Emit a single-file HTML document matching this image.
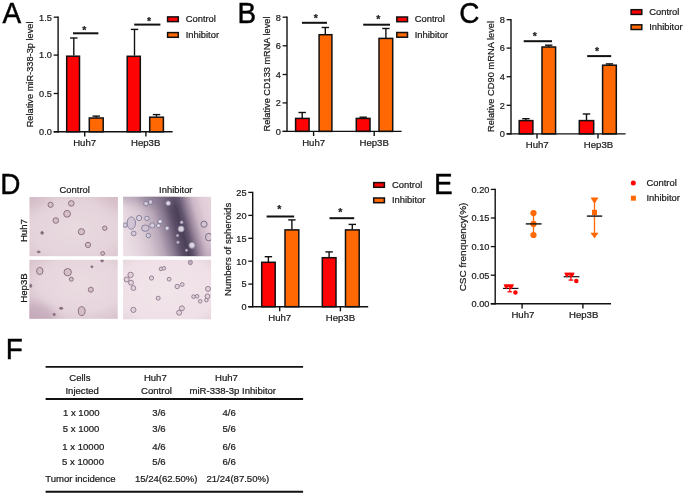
<!DOCTYPE html>
<html lang="en"><head><meta charset="utf-8"><title>Figure</title>
<style>
html,body{margin:0;padding:0;background:#fff;}
svg{display:block;font-family:"Liberation Sans", Arial, sans-serif;filter:blur(0.45px);}
</style></head><body>
<svg width="685" height="495" viewBox="0 0 685 495">
<rect width="685" height="495" fill="#fff"/>
<text transform="translate(2.4 22.7) scale(0.92 1)" font-size="30.4" fill="#000" stroke="#000" stroke-width="0.45">A</text>
<text transform="translate(237.6 22.5) scale(0.92 1)" font-size="30.4" fill="#000" stroke="#000" stroke-width="0.45">B</text>
<text transform="translate(459.3 22.9) scale(0.92 1)" font-size="30.4" fill="#000" stroke="#000" stroke-width="0.45">C</text>
<text transform="translate(0.3 194.0) scale(0.92 1)" font-size="30.4" fill="#000" stroke="#000" stroke-width="0.45">D</text>
<text transform="translate(434.0 194.2) scale(0.92 1)" font-size="30.4" fill="#000" stroke="#000" stroke-width="0.45">E</text>
<text transform="translate(5.7 358.6) scale(0.92 1)" font-size="30.4" fill="#000" stroke="#000" stroke-width="0.45">F</text>
<line x1="73.8" y1="38.0" x2="73.8" y2="55.6" stroke="#111" stroke-width="1.4"/>
<line x1="70.1" y1="38.0" x2="77.5" y2="38.0" stroke="#111" stroke-width="1.4"/>
<line x1="96.2" y1="116.1" x2="96.2" y2="117.7" stroke="#111" stroke-width="1.4"/>
<line x1="92.5" y1="116.1" x2="99.9" y2="116.1" stroke="#111" stroke-width="1.4"/>
<line x1="134.5" y1="29.4" x2="134.5" y2="55.6" stroke="#111" stroke-width="1.4"/>
<line x1="130.8" y1="29.4" x2="138.2" y2="29.4" stroke="#111" stroke-width="1.4"/>
<line x1="156.5" y1="114.6" x2="156.5" y2="116.7" stroke="#111" stroke-width="1.4"/>
<line x1="152.8" y1="114.6" x2="160.2" y2="114.6" stroke="#111" stroke-width="1.4"/>
<rect x="66.7" y="56.2" width="12.8" height="75.6" fill="#fd0303" stroke="#111" stroke-width="1.5"/>
<rect x="89.3" y="118.0" width="13.9" height="13.8" fill="#ff6803" stroke="#111" stroke-width="1.5"/>
<rect x="127.2" y="56.3" width="13.1" height="75.5" fill="#fd0303" stroke="#111" stroke-width="1.5"/>
<rect x="149.7" y="117.2" width="13.7" height="14.6" fill="#ff6803" stroke="#111" stroke-width="1.5"/>
<line x1="58.1" y1="16.6" x2="58.1" y2="132.4" stroke="#111" stroke-width="1.4"/>
<line x1="53.7" y1="131.8" x2="172.6" y2="131.8" stroke="#111" stroke-width="1.4"/>
<line x1="53.7" y1="17.2" x2="58.1" y2="17.2" stroke="#111" stroke-width="1.3"/>
<text x="51.9" y="20.5" font-size="9.2" text-anchor="end" fill="#1a1a1a" stroke="#1a1a1a" stroke-width="0.22">1.5</text>
<line x1="53.7" y1="55.1" x2="58.1" y2="55.1" stroke="#111" stroke-width="1.3"/>
<text x="51.9" y="58.4" font-size="9.2" text-anchor="end" fill="#1a1a1a" stroke="#1a1a1a" stroke-width="0.22">1.0</text>
<line x1="53.7" y1="93.5" x2="58.1" y2="93.5" stroke="#111" stroke-width="1.3"/>
<text x="51.9" y="96.8" font-size="9.2" text-anchor="end" fill="#1a1a1a" stroke="#1a1a1a" stroke-width="0.22">0.5</text>
<line x1="53.7" y1="131.8" x2="58.1" y2="131.8" stroke="#111" stroke-width="1.3"/>
<text x="51.9" y="135.1" font-size="9.2" text-anchor="end" fill="#1a1a1a" stroke="#1a1a1a" stroke-width="0.22">0.0</text>
<line x1="84.7" y1="131.8" x2="84.7" y2="136.4" stroke="#111" stroke-width="1.4"/>
<line x1="145.9" y1="131.8" x2="145.9" y2="136.4" stroke="#111" stroke-width="1.4"/>
<text x="84.6" y="146.2" font-size="9.6" text-anchor="middle" fill="#1a1a1a" stroke="#1a1a1a" stroke-width="0.22">Huh7</text>
<text x="145.7" y="146.2" font-size="9.6" text-anchor="middle" fill="#1a1a1a" stroke="#1a1a1a" stroke-width="0.22">Hep3B</text>
<line x1="73.0" y1="33.3" x2="98.4" y2="33.3" stroke="#111" stroke-width="2.0"/>
<text x="84.3" y="33.5" font-size="10.5" text-anchor="middle" fill="#1a1a1a" stroke="#1a1a1a" stroke-width="0.22" font-weight="bold">*</text>
<line x1="134.2" y1="24.6" x2="160.4" y2="24.6" stroke="#111" stroke-width="2.0"/>
<text x="149.1" y="24.6" font-size="10.5" text-anchor="middle" fill="#1a1a1a" stroke="#1a1a1a" stroke-width="0.22" font-weight="bold">*</text>
<rect x="167.6" y="16.9" width="10.7" height="4.7" fill="#fd0303" stroke="#111" stroke-width="1.5"/>
<text x="185.7" y="22.3" font-size="9.4" text-anchor="start" fill="#1a1a1a" stroke="#1a1a1a" stroke-width="0.22">Control</text>
<rect x="167.6" y="32.6" width="10.7" height="4.7" fill="#ff6803" stroke="#111" stroke-width="1.5"/>
<text x="185.7" y="38.1" font-size="9.4" text-anchor="start" fill="#1a1a1a" stroke="#1a1a1a" stroke-width="0.22">Inhibitor</text>
<text x="32.6" y="74.4" font-size="9.25" text-anchor="middle" fill="#1a1a1a" stroke="#1a1a1a" stroke-width="0.22" transform="rotate(-90 32.6 74.4)">Relative miR-338-3p level</text>
<line x1="302.2" y1="112.5" x2="302.2" y2="118.4" stroke="#111" stroke-width="1.4"/>
<line x1="298.5" y1="112.5" x2="305.9" y2="112.5" stroke="#111" stroke-width="1.4"/>
<line x1="325.3" y1="27.5" x2="325.3" y2="34.3" stroke="#111" stroke-width="1.4"/>
<line x1="321.6" y1="27.5" x2="329.0" y2="27.5" stroke="#111" stroke-width="1.4"/>
<line x1="363.2" y1="117.2" x2="363.2" y2="118.4" stroke="#111" stroke-width="1.4"/>
<line x1="359.5" y1="117.2" x2="366.9" y2="117.2" stroke="#111" stroke-width="1.4"/>
<line x1="385.9" y1="28.5" x2="385.9" y2="38.4" stroke="#111" stroke-width="1.4"/>
<line x1="382.2" y1="28.5" x2="389.6" y2="28.5" stroke="#111" stroke-width="1.4"/>
<rect x="295.6" y="118.4" width="13.5" height="13.0" fill="#fd0303" stroke="#111" stroke-width="1.5"/>
<rect x="319.1" y="34.7" width="12.8" height="96.7" fill="#ff6803" stroke="#111" stroke-width="1.5"/>
<rect x="356.3" y="118.4" width="13.7" height="13.0" fill="#fd0303" stroke="#111" stroke-width="1.5"/>
<rect x="379.0" y="38.4" width="13.7" height="93.0" fill="#ff6803" stroke="#111" stroke-width="1.5"/>
<line x1="287.0" y1="16.6" x2="287.0" y2="132.0" stroke="#111" stroke-width="1.4"/>
<line x1="282.6" y1="131.4" x2="401.6" y2="131.4" stroke="#111" stroke-width="1.4"/>
<line x1="282.6" y1="17.2" x2="287.0" y2="17.2" stroke="#111" stroke-width="1.3"/>
<text x="280.8" y="20.5" font-size="9.2" text-anchor="end" fill="#1a1a1a" stroke="#1a1a1a" stroke-width="0.22">8</text>
<line x1="282.6" y1="45.8" x2="287.0" y2="45.8" stroke="#111" stroke-width="1.3"/>
<text x="280.8" y="49.1" font-size="9.2" text-anchor="end" fill="#1a1a1a" stroke="#1a1a1a" stroke-width="0.22">6</text>
<line x1="282.6" y1="74.5" x2="287.0" y2="74.5" stroke="#111" stroke-width="1.3"/>
<text x="280.8" y="77.8" font-size="9.2" text-anchor="end" fill="#1a1a1a" stroke="#1a1a1a" stroke-width="0.22">4</text>
<line x1="282.6" y1="102.9" x2="287.0" y2="102.9" stroke="#111" stroke-width="1.3"/>
<text x="280.8" y="106.2" font-size="9.2" text-anchor="end" fill="#1a1a1a" stroke="#1a1a1a" stroke-width="0.22">2</text>
<line x1="282.6" y1="131.4" x2="287.0" y2="131.4" stroke="#111" stroke-width="1.3"/>
<text x="280.8" y="134.7" font-size="9.2" text-anchor="end" fill="#1a1a1a" stroke="#1a1a1a" stroke-width="0.22">0</text>
<line x1="313.6" y1="131.4" x2="313.6" y2="136.0" stroke="#111" stroke-width="1.4"/>
<line x1="374.2" y1="131.4" x2="374.2" y2="136.0" stroke="#111" stroke-width="1.4"/>
<text x="313.6" y="145.8" font-size="9.6" text-anchor="middle" fill="#1a1a1a" stroke="#1a1a1a" stroke-width="0.22">Huh7</text>
<text x="374.2" y="145.8" font-size="9.6" text-anchor="middle" fill="#1a1a1a" stroke="#1a1a1a" stroke-width="0.22">Hep3B</text>
<line x1="302.0" y1="22.8" x2="327.0" y2="22.8" stroke="#111" stroke-width="2.0"/>
<text x="315.8" y="21.8" font-size="10.5" text-anchor="middle" fill="#1a1a1a" stroke="#1a1a1a" stroke-width="0.22" font-weight="bold">*</text>
<line x1="363.2" y1="24.7" x2="390.0" y2="24.7" stroke="#111" stroke-width="2.0"/>
<text x="378.3" y="22.5" font-size="10.5" text-anchor="middle" fill="#1a1a1a" stroke="#1a1a1a" stroke-width="0.22" font-weight="bold">*</text>
<rect x="396.8" y="17.0" width="10.7" height="4.7" fill="#fd0303" stroke="#111" stroke-width="1.5"/>
<text x="414.7" y="22.4" font-size="9.4" text-anchor="start" fill="#1a1a1a" stroke="#1a1a1a" stroke-width="0.22">Control</text>
<rect x="396.8" y="32.5" width="10.7" height="4.7" fill="#ff6803" stroke="#111" stroke-width="1.5"/>
<text x="414.7" y="38.0" font-size="9.4" text-anchor="start" fill="#1a1a1a" stroke="#1a1a1a" stroke-width="0.22">Inhibitor</text>
<text x="270.0" y="74.0" font-size="9.2" text-anchor="middle" fill="#1a1a1a" stroke="#1a1a1a" stroke-width="0.22" transform="rotate(-90 270.0 74.0)">Relative CD133 mRNA level</text>
<line x1="525.9" y1="118.7" x2="525.9" y2="120.1" stroke="#111" stroke-width="1.4"/>
<line x1="522.2" y1="118.7" x2="529.6" y2="118.7" stroke="#111" stroke-width="1.4"/>
<line x1="548.7" y1="45.2" x2="548.7" y2="47.0" stroke="#111" stroke-width="1.4"/>
<line x1="545.0" y1="45.2" x2="552.4" y2="45.2" stroke="#111" stroke-width="1.4"/>
<line x1="586.5" y1="114.0" x2="586.5" y2="120.1" stroke="#111" stroke-width="1.4"/>
<line x1="582.8" y1="114.0" x2="590.2" y2="114.0" stroke="#111" stroke-width="1.4"/>
<line x1="609.5" y1="63.9" x2="609.5" y2="65.2" stroke="#111" stroke-width="1.4"/>
<line x1="605.8" y1="63.9" x2="613.2" y2="63.9" stroke="#111" stroke-width="1.4"/>
<rect x="519.2" y="120.6" width="13.7" height="13.3" fill="#fd0303" stroke="#111" stroke-width="1.5"/>
<rect x="542.0" y="47.0" width="13.6" height="86.9" fill="#ff6803" stroke="#111" stroke-width="1.5"/>
<rect x="579.3" y="120.6" width="14.4" height="13.3" fill="#fd0303" stroke="#111" stroke-width="1.5"/>
<rect x="602.6" y="65.2" width="13.7" height="68.7" fill="#ff6803" stroke="#111" stroke-width="1.5"/>
<line x1="511.0" y1="19.1" x2="511.0" y2="134.5" stroke="#111" stroke-width="1.4"/>
<line x1="506.6" y1="133.9" x2="625.6" y2="133.9" stroke="#111" stroke-width="1.4"/>
<line x1="506.6" y1="19.7" x2="511.0" y2="19.7" stroke="#111" stroke-width="1.3"/>
<text x="504.8" y="23.0" font-size="9.2" text-anchor="end" fill="#1a1a1a" stroke="#1a1a1a" stroke-width="0.22">8</text>
<line x1="506.6" y1="48.1" x2="511.0" y2="48.1" stroke="#111" stroke-width="1.3"/>
<text x="504.8" y="51.4" font-size="9.2" text-anchor="end" fill="#1a1a1a" stroke="#1a1a1a" stroke-width="0.22">6</text>
<line x1="506.6" y1="76.7" x2="511.0" y2="76.7" stroke="#111" stroke-width="1.3"/>
<text x="504.8" y="80.0" font-size="9.2" text-anchor="end" fill="#1a1a1a" stroke="#1a1a1a" stroke-width="0.22">4</text>
<line x1="506.6" y1="105.3" x2="511.0" y2="105.3" stroke="#111" stroke-width="1.3"/>
<text x="504.8" y="108.6" font-size="9.2" text-anchor="end" fill="#1a1a1a" stroke="#1a1a1a" stroke-width="0.22">2</text>
<line x1="506.6" y1="133.9" x2="511.0" y2="133.9" stroke="#111" stroke-width="1.3"/>
<text x="504.8" y="137.2" font-size="9.2" text-anchor="end" fill="#1a1a1a" stroke="#1a1a1a" stroke-width="0.22">0</text>
<line x1="537.0" y1="133.9" x2="537.0" y2="138.5" stroke="#111" stroke-width="1.4"/>
<line x1="598.0" y1="133.9" x2="598.0" y2="138.5" stroke="#111" stroke-width="1.4"/>
<text x="537.2" y="148.2" font-size="9.6" text-anchor="middle" fill="#1a1a1a" stroke="#1a1a1a" stroke-width="0.22">Huh7</text>
<text x="598.5" y="148.2" font-size="9.6" text-anchor="middle" fill="#1a1a1a" stroke="#1a1a1a" stroke-width="0.22">Hep3B</text>
<line x1="523.7" y1="41.2" x2="552.0" y2="41.2" stroke="#111" stroke-width="2.0"/>
<text x="534.8" y="40.0" font-size="10.5" text-anchor="middle" fill="#1a1a1a" stroke="#1a1a1a" stroke-width="0.22" font-weight="bold">*</text>
<line x1="587.2" y1="56.1" x2="611.2" y2="56.1" stroke="#111" stroke-width="2.0"/>
<text x="597.1" y="54.9" font-size="10.5" text-anchor="middle" fill="#1a1a1a" stroke="#1a1a1a" stroke-width="0.22" font-weight="bold">*</text>
<rect x="631.1" y="9.7" width="10.7" height="4.7" fill="#fd0303" stroke="#111" stroke-width="1.5"/>
<text x="649.2" y="15.1" font-size="9.4" text-anchor="start" fill="#1a1a1a" stroke="#1a1a1a" stroke-width="0.22">Control</text>
<rect x="631.1" y="24.8" width="10.7" height="4.7" fill="#ff6803" stroke="#111" stroke-width="1.5"/>
<text x="649.2" y="30.2" font-size="9.4" text-anchor="start" fill="#1a1a1a" stroke="#1a1a1a" stroke-width="0.22">Inhibitor</text>
<text x="493.8" y="76.5" font-size="9.3" text-anchor="middle" fill="#1a1a1a" stroke="#1a1a1a" stroke-width="0.22" transform="rotate(-90 493.8 76.5)">Relative CD90 mRNA level</text>
<line x1="268.4" y1="256.7" x2="268.4" y2="262.2" stroke="#111" stroke-width="1.4"/>
<line x1="264.7" y1="256.7" x2="272.1" y2="256.7" stroke="#111" stroke-width="1.4"/>
<line x1="291.9" y1="219.9" x2="291.9" y2="229.5" stroke="#111" stroke-width="1.4"/>
<line x1="288.2" y1="219.9" x2="295.6" y2="219.9" stroke="#111" stroke-width="1.4"/>
<line x1="329.1" y1="251.9" x2="329.1" y2="257.7" stroke="#111" stroke-width="1.4"/>
<line x1="325.4" y1="251.9" x2="332.8" y2="251.9" stroke="#111" stroke-width="1.4"/>
<line x1="352.3" y1="224.4" x2="352.3" y2="229.5" stroke="#111" stroke-width="1.4"/>
<line x1="348.6" y1="224.4" x2="356.0" y2="224.4" stroke="#111" stroke-width="1.4"/>
<rect x="261.7" y="262.3" width="13.5" height="44.4" fill="#fd0303" stroke="#111" stroke-width="1.5"/>
<rect x="285.0" y="229.9" width="13.8" height="76.8" fill="#ff6803" stroke="#111" stroke-width="1.5"/>
<rect x="322.3" y="257.7" width="13.7" height="49.0" fill="#fd0303" stroke="#111" stroke-width="1.5"/>
<rect x="345.5" y="229.9" width="13.7" height="76.8" fill="#ff6803" stroke="#111" stroke-width="1.5"/>
<line x1="252.7" y1="191.8" x2="252.7" y2="307.3" stroke="#111" stroke-width="1.4"/>
<line x1="248.3" y1="306.7" x2="368.2" y2="306.7" stroke="#111" stroke-width="1.4"/>
<line x1="248.3" y1="192.4" x2="252.7" y2="192.4" stroke="#111" stroke-width="1.3"/>
<text x="246.5" y="195.7" font-size="9.2" text-anchor="end" fill="#1a1a1a" stroke="#1a1a1a" stroke-width="0.22">25</text>
<line x1="248.3" y1="215.4" x2="252.7" y2="215.4" stroke="#111" stroke-width="1.3"/>
<text x="246.5" y="218.7" font-size="9.2" text-anchor="end" fill="#1a1a1a" stroke="#1a1a1a" stroke-width="0.22">20</text>
<line x1="248.3" y1="238.3" x2="252.7" y2="238.3" stroke="#111" stroke-width="1.3"/>
<text x="246.5" y="241.6" font-size="9.2" text-anchor="end" fill="#1a1a1a" stroke="#1a1a1a" stroke-width="0.22">15</text>
<line x1="248.3" y1="261.2" x2="252.7" y2="261.2" stroke="#111" stroke-width="1.3"/>
<text x="246.5" y="264.5" font-size="9.2" text-anchor="end" fill="#1a1a1a" stroke="#1a1a1a" stroke-width="0.22">10</text>
<line x1="248.3" y1="284.1" x2="252.7" y2="284.1" stroke="#111" stroke-width="1.3"/>
<text x="246.5" y="287.4" font-size="9.2" text-anchor="end" fill="#1a1a1a" stroke="#1a1a1a" stroke-width="0.22">5</text>
<line x1="248.3" y1="306.7" x2="252.7" y2="306.7" stroke="#111" stroke-width="1.3"/>
<text x="246.5" y="310.0" font-size="9.2" text-anchor="end" fill="#1a1a1a" stroke="#1a1a1a" stroke-width="0.22">0</text>
<line x1="279.7" y1="306.7" x2="279.7" y2="311.3" stroke="#111" stroke-width="1.4"/>
<line x1="340.4" y1="306.7" x2="340.4" y2="311.3" stroke="#111" stroke-width="1.4"/>
<text x="279.7" y="321.3" font-size="9.6" text-anchor="middle" fill="#1a1a1a" stroke="#1a1a1a" stroke-width="0.22">Huh7</text>
<text x="340.4" y="321.3" font-size="9.6" text-anchor="middle" fill="#1a1a1a" stroke="#1a1a1a" stroke-width="0.22">Hep3B</text>
<line x1="266.6" y1="216.5" x2="294.1" y2="216.5" stroke="#111" stroke-width="2.0"/>
<text x="279.3" y="212.9" font-size="10.5" text-anchor="middle" fill="#1a1a1a" stroke="#1a1a1a" stroke-width="0.22" font-weight="bold">*</text>
<line x1="329.5" y1="218.2" x2="354.2" y2="218.2" stroke="#111" stroke-width="2.0"/>
<text x="340.4" y="216.0" font-size="10.5" text-anchor="middle" fill="#1a1a1a" stroke="#1a1a1a" stroke-width="0.22" font-weight="bold">*</text>
<rect x="373.7" y="182.6" width="10.7" height="4.7" fill="#fd0303" stroke="#111" stroke-width="1.5"/>
<text x="392.0" y="188.0" font-size="9.4" text-anchor="start" fill="#1a1a1a" stroke="#1a1a1a" stroke-width="0.22">Control</text>
<rect x="373.7" y="198.0" width="10.7" height="4.7" fill="#ff6803" stroke="#111" stroke-width="1.5"/>
<text x="392.0" y="203.4" font-size="9.4" text-anchor="start" fill="#1a1a1a" stroke="#1a1a1a" stroke-width="0.22">Inhibitor</text>
<text x="231.0" y="249.4" font-size="9.52" text-anchor="middle" fill="#1a1a1a" stroke="#1a1a1a" stroke-width="0.22" transform="rotate(-90 231.0 249.4)">Numbers of spheroids</text>
<text x="74.7" y="193.1" font-size="9.4" text-anchor="middle" fill="#1a1a1a" stroke="#1a1a1a" stroke-width="0.22">Control</text>
<text x="175.8" y="193.1" font-size="9.4" text-anchor="middle" fill="#1a1a1a" stroke="#1a1a1a" stroke-width="0.22">Inhibitor</text>
<text x="27.3" y="230.6" font-size="9.6" text-anchor="middle" fill="#1a1a1a" stroke="#1a1a1a" stroke-width="0.22" transform="rotate(-90 27.3 230.6)">Huh7</text>
<text x="27.3" y="288.0" font-size="9.6" text-anchor="middle" fill="#1a1a1a" stroke="#1a1a1a" stroke-width="0.22" transform="rotate(-90 27.3 288.0)">Hep3B</text>
<defs>
<filter id="b1" x="-20%" y="-20%" width="140%" height="140%"><feGaussianBlur stdDeviation="0.55"/></filter>
<filter id="b3" x="-50%" y="-50%" width="200%" height="200%"><feGaussianBlur stdDeviation="5"/></filter>
<radialGradient id="g1" cx="0.5" cy="0.55" r="0.8"><stop offset="0" stop-color="#e9dae0"/><stop offset="0.6" stop-color="#e4d3da"/><stop offset="1" stop-color="#d7bfc9"/></radialGradient>
<radialGradient id="g3" cx="0.58" cy="0.42" r="0.85"><stop offset="0" stop-color="#ebdce2"/><stop offset="0.55" stop-color="#e6d5dc"/><stop offset="1" stop-color="#d0b7c3"/></radialGradient>
<radialGradient id="g4" cx="0.5" cy="0.5" r="0.8"><stop offset="0" stop-color="#f2e5ea"/><stop offset="0.7" stop-color="#eee0e6"/><stop offset="1" stop-color="#e2ced8"/></radialGradient>
<linearGradient id="g2" gradientUnits="userSpaceOnUse" x1="119.1" y1="242.6" x2="215.4" y2="215.8">
<stop offset="0" stop-color="#eee2e8"/>
<stop offset="0.15" stop-color="#e6d7df"/>
<stop offset="0.28" stop-color="#d6c6d1"/>
<stop offset="0.40" stop-color="#b9a8b9"/>
<stop offset="0.50" stop-color="#8b7b92"/>
<stop offset="0.58" stop-color="#5b4e66"/>
<stop offset="0.64" stop-color="#4b3f58"/>
<stop offset="0.69" stop-color="#63556e"/>
<stop offset="0.75" stop-color="#9a879d"/>
<stop offset="0.82" stop-color="#cbb7c6"/>
<stop offset="0.90" stop-color="#e0ccd7"/>
<stop offset="1" stop-color="#e6d4dc"/>
</linearGradient>
<clipPath id="c1"><rect x="29.5" y="197.0" width="88.4" height="59.2"/></clipPath>
<clipPath id="c2"><rect x="123.1" y="196.8" width="88.0" height="59.4"/></clipPath>
<clipPath id="c3"><rect x="29.4" y="259.8" width="88.3" height="59.0"/></clipPath>
<clipPath id="c4"><rect x="123.1" y="259.8" width="88.0" height="59.5"/></clipPath>
</defs>
<rect x="29.5" y="197.0" width="88.4" height="59.2" fill="url(#g1)"/>
<rect x="123.1" y="196.8" width="88.0" height="59.4" fill="url(#g2)"/>
<rect x="29.4" y="259.8" width="88.3" height="59.0" fill="url(#g3)"/>
<rect x="123.1" y="259.8" width="88.0" height="59.5" fill="url(#g4)"/>
<g clip-path="url(#c2)"><ellipse cx="138" cy="195" rx="30" ry="8" fill="#9d8ea3" opacity="0.55" filter="url(#b3)"/><ellipse cx="160" cy="197" rx="20" ry="9" fill="#7d6d86" opacity="0.5" filter="url(#b3)"/><ellipse cx="211" cy="258" rx="12" ry="10" fill="#b9a3b6" opacity="0.45" filter="url(#b3)"/></g>
<g clip-path="url(#c3)"><ellipse cx="30" cy="318" rx="26" ry="16" fill="#b99cb0" opacity="0.55" filter="url(#b3)"/></g>
<g clip-path="url(#c1)"><ellipse cx="30" cy="198" rx="16" ry="10" fill="#c9adbc" opacity="0.35" filter="url(#b3)"/><ellipse cx="118" cy="198" rx="16" ry="12" fill="#cdb2c0" opacity="0.35" filter="url(#b3)"/></g>
<g clip-path="url(#c1)" filter="url(#b1)" opacity="0.9">
<ellipse cx="50.6" cy="204.8" rx="2.6" ry="2.6" fill="#d3bcc6" stroke="#806676" stroke-width="1.0"/>
<ellipse cx="71.3" cy="203.4" rx="2.8" ry="2.8" fill="#d3bcc6" stroke="#806676" stroke-width="1.0"/>
<ellipse cx="67.1" cy="213.8" rx="3.4" ry="3.4" fill="#d3bcc6" stroke="#806676" stroke-width="1.0"/>
<ellipse cx="55.8" cy="220.5" rx="2.8" ry="2.8" fill="#d3bcc6" stroke="#806676" stroke-width="1.0"/>
<ellipse cx="42.1" cy="232.9" rx="1.3" ry="1.3" fill="#7a5f74" stroke="#806676" stroke-width="1.0"/>
<ellipse cx="81.4" cy="231.7" rx="3.1" ry="3.1" fill="#d3bcc6" stroke="#806676" stroke-width="1.0"/>
<ellipse cx="104.8" cy="228.2" rx="2.2" ry="2.2" fill="#d3bcc6" stroke="#806676" stroke-width="1.0"/>
<ellipse cx="88.0" cy="244.9" rx="2.6" ry="2.6" fill="#d3bcc6" stroke="#806676" stroke-width="1.0"/>
<ellipse cx="102.7" cy="253.4" rx="1.9" ry="1.9" fill="#d3bcc6" stroke="#806676" stroke-width="1.0"/>
<ellipse cx="38.7" cy="251.9" rx="1.6" ry="0.8" fill="#7a5f74" stroke="#806676" stroke-width="1.0"/>
</g>
<g clip-path="url(#c2)" filter="url(#b1)" opacity="0.9">
<ellipse cx="131.3" cy="223.1" rx="4.2" ry="6.2" fill="#cfc3d3" stroke="#807b98" stroke-width="1.0"/>
<ellipse cx="125.1" cy="225.1" rx="2.2" ry="2.2" fill="#d4c9d8" stroke="#807b98" stroke-width="1.0"/>
<ellipse cx="133.7" cy="233.5" rx="2.4" ry="2.4" fill="#d4c9d8" stroke="#807b98" stroke-width="1.0"/>
<ellipse cx="139.1" cy="218.0" rx="2.6" ry="2.6" fill="#ddd3e0" stroke="#807b98" stroke-width="1.0"/>
<ellipse cx="146.9" cy="218.4" rx="2.2" ry="2.2" fill="#ddd3e0" stroke="#807b98" stroke-width="1.0"/>
<ellipse cx="145.3" cy="228.2" rx="3.8" ry="3.2" fill="#cfc3d3" stroke="#807b98" stroke-width="1.0"/>
<ellipse cx="152.3" cy="225.4" rx="2.6" ry="2.6" fill="#d8cedb" stroke="#807b98" stroke-width="1.0"/>
<ellipse cx="148.4" cy="235.5" rx="2.2" ry="2.2" fill="#d8cedb" stroke="#807b98" stroke-width="1.0"/>
<ellipse cx="160.1" cy="221.5" rx="2.2" ry="2.2" fill="#e9e4ee" stroke="#807b98" stroke-width="1.0"/>
<ellipse cx="158.5" cy="225.7" rx="2.0" ry="2.0" fill="#e9e4ee" stroke="#807b98" stroke-width="1.0"/>
<ellipse cx="167.1" cy="228.2" rx="2.0" ry="2.0" fill="#e9e4ee" stroke="#8a84a0" stroke-width="1.0"/>
<ellipse cx="146.0" cy="203.6" rx="2.3" ry="2.3" fill="#d8cfdd" stroke="#807b98" stroke-width="1.0"/>
<ellipse cx="150.6" cy="202.0" rx="2.3" ry="2.3" fill="#d8cfdd" stroke="#807b98" stroke-width="1.0"/>
<ellipse cx="168.2" cy="203.2" rx="2.3" ry="2.3" fill="#e9e4ee" stroke="#9c95b0" stroke-width="1.0"/>
<ellipse cx="181.6" cy="222.3" rx="1.4" ry="1.4" fill="#e9e4ee" stroke="#9c95b0" stroke-width="1.0"/>
<ellipse cx="181.1" cy="228.9" rx="2.9" ry="2.9" fill="#e9e4ee" stroke="#a7a0b8" stroke-width="1.0"/>
<ellipse cx="177.5" cy="235.5" rx="1.1" ry="1.1" fill="#e9e4ee" stroke="#a7a0b8" stroke-width="1.0"/>
<ellipse cx="178.0" cy="242.2" rx="1.2" ry="1.2" fill="#e9e4ee" stroke="#a7a0b8" stroke-width="1.0"/>
<ellipse cx="192.0" cy="245.3" rx="3.1" ry="3.1" fill="#e9e4ee" stroke="#8a84a0" stroke-width="1.0"/>
<ellipse cx="186.5" cy="250.3" rx="1.1" ry="1.1" fill="#e9e4ee" stroke="#a7a0b8" stroke-width="1.0"/>
<ellipse cx="204.0" cy="224.2" rx="3.1" ry="3.1" fill="#d3c4d0" stroke="#6f677f" stroke-width="1.0"/>
<ellipse cx="208.8" cy="237.1" rx="3.3" ry="3.8" fill="#d3c4d0" stroke="#6f677f" stroke-width="1.0"/>
</g>
<g clip-path="url(#c3)" filter="url(#b1)" opacity="0.9">
<ellipse cx="39.8" cy="271.0" rx="3.2" ry="3.6" fill="#d3bcc6" stroke="#806676" stroke-width="1.0"/>
<ellipse cx="67.7" cy="272.2" rx="3.7" ry="3.7" fill="#d3bcc6" stroke="#806676" stroke-width="1.0"/>
<ellipse cx="71.3" cy="279.2" rx="2.0" ry="2.0" fill="#d3bcc6" stroke="#806676" stroke-width="1.0"/>
<ellipse cx="90.8" cy="289.7" rx="2.5" ry="2.5" fill="#d3bcc6" stroke="#806676" stroke-width="1.0"/>
<ellipse cx="81.7" cy="311.1" rx="3.4" ry="4.4" fill="#d3bcc6" stroke="#806676" stroke-width="1.0"/>
<ellipse cx="61.2" cy="308.3" rx="1.7" ry="1.0" fill="#7a5f74" stroke="#806676" stroke-width="1.0"/>
<ellipse cx="54.2" cy="314.5" rx="1.1" ry="1.1" fill="#7a5f74" stroke="#806676" stroke-width="1.0"/>
<ellipse cx="91.9" cy="266.8" rx="1.0" ry="1.0" fill="#7a5f74" stroke="#806676" stroke-width="1.0"/>
<ellipse cx="102.1" cy="260.6" rx="1.3" ry="1.3" fill="#7a5f74" stroke="#806676" stroke-width="1.0"/>
<ellipse cx="30.6" cy="285.8" rx="1.2" ry="1.6" fill="#7a5f74" stroke="#806676" stroke-width="1.0"/>
</g>
<g clip-path="url(#c4)" filter="url(#b1)" opacity="0.9">
<ellipse cx="130.6" cy="274.9" rx="2.7" ry="2.7" fill="#e2cfd7" stroke="#867288" stroke-width="0.95"/>
<ellipse cx="126.7" cy="279.5" rx="2.5" ry="2.5" fill="#e2cfd7" stroke="#867288" stroke-width="0.95"/>
<ellipse cx="131.0" cy="282.7" rx="2.5" ry="2.5" fill="#e2cfd7" stroke="#867288" stroke-width="0.95"/>
<ellipse cx="133.4" cy="288.1" rx="2.4" ry="2.4" fill="#e2cfd7" stroke="#867288" stroke-width="0.95"/>
<ellipse cx="151.5" cy="278.0" rx="2.1" ry="2.1" fill="#e2cfd7" stroke="#867288" stroke-width="0.95"/>
<ellipse cx="161.0" cy="268.9" rx="1.8" ry="1.8" fill="#e2cfd7" stroke="#867288" stroke-width="0.95"/>
<ellipse cx="163.9" cy="268.3" rx="1.8" ry="1.8" fill="#e2cfd7" stroke="#867288" stroke-width="0.95"/>
<ellipse cx="169.1" cy="279.2" rx="1.9" ry="1.9" fill="#e2cfd7" stroke="#867288" stroke-width="0.95"/>
<ellipse cx="177.2" cy="286.5" rx="2.2" ry="2.2" fill="#e2cfd7" stroke="#867288" stroke-width="0.95"/>
<ellipse cx="182.2" cy="284.5" rx="1.9" ry="1.9" fill="#e2cfd7" stroke="#867288" stroke-width="0.95"/>
<ellipse cx="158.2" cy="298.2" rx="2.0" ry="2.0" fill="#e2cfd7" stroke="#867288" stroke-width="0.95"/>
<ellipse cx="133.4" cy="309.9" rx="2.6" ry="2.6" fill="#e2cfd7" stroke="#867288" stroke-width="0.95"/>
<ellipse cx="181.9" cy="308.3" rx="2.5" ry="2.5" fill="#e2cfd7" stroke="#867288" stroke-width="0.95"/>
<ellipse cx="179.1" cy="312.7" rx="2.5" ry="2.5" fill="#e2cfd7" stroke="#867288" stroke-width="0.95"/>
<ellipse cx="193.5" cy="296.7" rx="1.8" ry="1.8" fill="#e2cfd7" stroke="#867288" stroke-width="0.95"/>
<ellipse cx="197.1" cy="296.3" rx="1.8" ry="1.8" fill="#e2cfd7" stroke="#867288" stroke-width="0.95"/>
<ellipse cx="200.2" cy="301.3" rx="1.8" ry="1.8" fill="#e2cfd7" stroke="#867288" stroke-width="0.95"/>
<ellipse cx="208.0" cy="288.9" rx="2.5" ry="2.5" fill="#e2cfd7" stroke="#867288" stroke-width="0.95"/>
<ellipse cx="207.5" cy="296.3" rx="2.4" ry="2.4" fill="#e2cfd7" stroke="#867288" stroke-width="0.95"/>
<ellipse cx="206.4" cy="300.1" rx="1.8" ry="1.8" fill="#e2cfd7" stroke="#867288" stroke-width="0.95"/>
<ellipse cx="190.4" cy="262.4" rx="2.0" ry="2.4" fill="#b9a6b6" stroke="#8d7b8d" stroke-width="0.95"/>
</g>
<line x1="495.2" y1="188.8" x2="495.2" y2="304.4" stroke="#111" stroke-width="1.4"/>
<line x1="490.8" y1="303.8" x2="611.0" y2="303.8" stroke="#111" stroke-width="1.4"/>
<line x1="490.8" y1="189.4" x2="495.2" y2="189.4" stroke="#111" stroke-width="1.3"/>
<text x="489.4" y="192.7" font-size="9.2" text-anchor="end" fill="#1a1a1a" stroke="#1a1a1a" stroke-width="0.22">0.20</text>
<line x1="490.8" y1="218.0" x2="495.2" y2="218.0" stroke="#111" stroke-width="1.3"/>
<text x="489.4" y="221.3" font-size="9.2" text-anchor="end" fill="#1a1a1a" stroke="#1a1a1a" stroke-width="0.22">0.15</text>
<line x1="490.8" y1="246.6" x2="495.2" y2="246.6" stroke="#111" stroke-width="1.3"/>
<text x="489.4" y="249.9" font-size="9.2" text-anchor="end" fill="#1a1a1a" stroke="#1a1a1a" stroke-width="0.22">0.10</text>
<line x1="490.8" y1="275.2" x2="495.2" y2="275.2" stroke="#111" stroke-width="1.3"/>
<text x="489.4" y="278.5" font-size="9.2" text-anchor="end" fill="#1a1a1a" stroke="#1a1a1a" stroke-width="0.22">0.05</text>
<line x1="490.8" y1="303.8" x2="495.2" y2="303.8" stroke="#111" stroke-width="1.3"/>
<text x="489.4" y="307.1" font-size="9.2" text-anchor="end" fill="#1a1a1a" stroke="#1a1a1a" stroke-width="0.22">0.00</text>
<line x1="522.1" y1="303.8" x2="522.1" y2="308.4" stroke="#111" stroke-width="1.4"/>
<line x1="582.9" y1="303.8" x2="582.9" y2="308.4" stroke="#111" stroke-width="1.4"/>
<text x="522.9" y="318.3" font-size="9.6" text-anchor="middle" fill="#1a1a1a" stroke="#1a1a1a" stroke-width="0.22">Huh7</text>
<text x="583.7" y="318.3" font-size="9.6" text-anchor="middle" fill="#1a1a1a" stroke="#1a1a1a" stroke-width="0.22">Hep3B</text>
<text x="466.3" y="247.0" font-size="9.97" text-anchor="middle" fill="#1a1a1a" stroke="#1a1a1a" stroke-width="0.22" transform="rotate(-90 466.3 247.0)">CSC frenquency(%)</text>
<line x1="503.0" y1="288.4" x2="518.4" y2="288.4" stroke="#111" stroke-width="1.2"/>
<line x1="509.8" y1="286.3" x2="509.8" y2="291.8" stroke="#fd0303" stroke-width="1.3"/>
<line x1="507.5" y1="286.3" x2="512.1" y2="286.3" stroke="#fd0303" stroke-width="1.3"/>
<line x1="507.5" y1="291.8" x2="512.1" y2="291.8" stroke="#fd0303" stroke-width="1.3"/>
<path d="M503.5 284.5 L509.3 284.5 L506.4 289.4 Z" fill="#fd0303"/>
<path d="M508.4 284.5 L514.2 284.5 L511.3 289.4 Z" fill="#fd0303"/>
<rect x="504.6" y="284.5" width="8.4" height="2.6" fill="#fd0303"/>
<circle cx="515.4" cy="292.6" r="2.25" fill="#fd0303"/>
<line x1="533.5" y1="213.1" x2="533.5" y2="235.0" stroke="#ff6803" stroke-width="1.3"/>
<line x1="530.9" y1="213.1" x2="536.1" y2="213.1" stroke="#ff6803" stroke-width="1.3"/>
<line x1="530.9" y1="235.0" x2="536.1" y2="235.0" stroke="#ff6803" stroke-width="1.3"/>
<circle cx="533.5" cy="213.1" r="3.1" fill="#ff6803"/>
<circle cx="533.5" cy="223.9" r="3.1" fill="#ff6803"/>
<circle cx="533.5" cy="235.0" r="3.1" fill="#ff6803"/>
<line x1="525.8" y1="223.9" x2="541.6" y2="223.9" stroke="#111" stroke-width="1.4"/>
<line x1="563.6" y1="276.7" x2="579.4" y2="276.7" stroke="#111" stroke-width="1.2"/>
<line x1="570.9" y1="274.6" x2="570.9" y2="280.1" stroke="#fd0303" stroke-width="1.3"/>
<line x1="568.6" y1="274.6" x2="573.2" y2="274.6" stroke="#fd0303" stroke-width="1.3"/>
<line x1="568.6" y1="280.1" x2="573.2" y2="280.1" stroke="#fd0303" stroke-width="1.3"/>
<path d="M564.1 272.8 L569.9 272.8 L567.0 277.7 Z" fill="#fd0303"/>
<path d="M569.0 272.8 L574.8 272.8 L571.9 277.7 Z" fill="#fd0303"/>
<rect x="565.2" y="272.8" width="8.4" height="2.6" fill="#fd0303"/>
<circle cx="576.3" cy="281.0" r="2.25" fill="#fd0303"/>
<line x1="594.5" y1="198.3" x2="594.5" y2="233.6" stroke="#ff6803" stroke-width="1.3"/>
<line x1="591.3" y1="198.3" x2="597.7" y2="198.3" stroke="#ff6803" stroke-width="1.3"/>
<line x1="591.3" y1="233.6" x2="597.7" y2="233.6" stroke="#ff6803" stroke-width="1.3"/>
<path d="M590.6 197.7 L598.4 197.7 L594.5 203.8 Z" fill="#ff6803"/>
<path d="M590.6 232.8 L598.4 232.8 L594.5 238.4 Z" fill="#ff6803"/>
<rect x="592.0" y="209.8" width="5.0" height="5.2" fill="#ff6803"/>
<line x1="586.9" y1="216.1" x2="602.2" y2="216.1" stroke="#111" stroke-width="1.4"/>
<circle cx="633.3" cy="183.0" r="2.5" fill="#fd0303"/>
<text x="646.5" y="185.8" font-size="9.4" text-anchor="start" fill="#1a1a1a" stroke="#1a1a1a" stroke-width="0.22">Control</text>
<rect x="630.9" y="195.7" width="5" height="5" fill="#ff6803"/>
<text x="646.5" y="201.2" font-size="9.4" text-anchor="start" fill="#1a1a1a" stroke="#1a1a1a" stroke-width="0.22">Inhibitor</text>
<line x1="45.6" y1="366.9" x2="303.1" y2="366.9" stroke="#111" stroke-width="1.9"/>
<line x1="45.6" y1="399.0" x2="303.1" y2="399.0" stroke="#111" stroke-width="1.9"/>
<line x1="45.6" y1="491.8" x2="303.1" y2="491.8" stroke="#111" stroke-width="1.9"/>
<text x="79.9" y="380.9" font-size="9.55" text-anchor="middle" fill="#1a1a1a" stroke="#1a1a1a" stroke-width="0.22">Cells</text>
<text x="155.3" y="380.9" font-size="9.55" text-anchor="middle" fill="#1a1a1a" stroke="#1a1a1a" stroke-width="0.22">Huh7</text>
<text x="226.5" y="380.9" font-size="9.55" text-anchor="middle" fill="#1a1a1a" stroke="#1a1a1a" stroke-width="0.22">Huh7</text>
<text x="82.2" y="393.6" font-size="9.55" text-anchor="middle" fill="#1a1a1a" stroke="#1a1a1a" stroke-width="0.22">Injected</text>
<text x="156.5" y="393.6" font-size="9.55" text-anchor="middle" fill="#1a1a1a" stroke="#1a1a1a" stroke-width="0.22">Control</text>
<text x="232.8" y="393.6" font-size="9.55" text-anchor="middle" fill="#1a1a1a" stroke="#1a1a1a" stroke-width="0.22">miR-338-3p Inhibitor</text>
<text x="81.3" y="416.3" font-size="9.55" text-anchor="middle" fill="#1a1a1a" stroke="#1a1a1a" stroke-width="0.22">1 x 1000</text>
<text x="159.0" y="416.3" font-size="9.55" text-anchor="middle" fill="#1a1a1a" stroke="#1a1a1a" stroke-width="0.22">3/6</text>
<text x="229.1" y="416.3" font-size="9.55" text-anchor="middle" fill="#1a1a1a" stroke="#1a1a1a" stroke-width="0.22">4/6</text>
<text x="81.1" y="431.9" font-size="9.55" text-anchor="middle" fill="#1a1a1a" stroke="#1a1a1a" stroke-width="0.22">5 x 1000</text>
<text x="159.0" y="431.9" font-size="9.55" text-anchor="middle" fill="#1a1a1a" stroke="#1a1a1a" stroke-width="0.22">3/6</text>
<text x="229.1" y="431.9" font-size="9.55" text-anchor="middle" fill="#1a1a1a" stroke="#1a1a1a" stroke-width="0.22">5/6</text>
<text x="83.3" y="449.8" font-size="9.55" text-anchor="middle" fill="#1a1a1a" stroke="#1a1a1a" stroke-width="0.22">1 x 10000</text>
<text x="159.0" y="449.8" font-size="9.55" text-anchor="middle" fill="#1a1a1a" stroke="#1a1a1a" stroke-width="0.22">4/6</text>
<text x="229.1" y="449.8" font-size="9.55" text-anchor="middle" fill="#1a1a1a" stroke="#1a1a1a" stroke-width="0.22">6/6</text>
<text x="83.0" y="464.6" font-size="9.55" text-anchor="middle" fill="#1a1a1a" stroke="#1a1a1a" stroke-width="0.22">5 x 10000</text>
<text x="159.0" y="464.6" font-size="9.55" text-anchor="middle" fill="#1a1a1a" stroke="#1a1a1a" stroke-width="0.22">5/6</text>
<text x="229.1" y="464.6" font-size="9.55" text-anchor="middle" fill="#1a1a1a" stroke="#1a1a1a" stroke-width="0.22">6/6</text>
<text x="45.3" y="481.6" font-size="9.55" text-anchor="start" fill="#1a1a1a" stroke="#1a1a1a" stroke-width="0.22">Tumor incidence</text>
<text x="134.9" y="481.6" font-size="9.55" text-anchor="start" fill="#1a1a1a" stroke="#1a1a1a" stroke-width="0.22">15/24(62.50%)</text>
<text x="206.5" y="481.6" font-size="9.55" text-anchor="start" fill="#1a1a1a" stroke="#1a1a1a" stroke-width="0.22">21/24(87.50%)</text>
</svg>
</body></html>
